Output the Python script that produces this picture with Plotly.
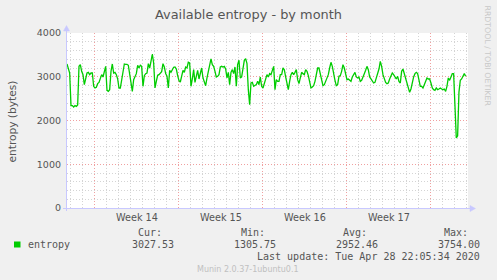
import numpy as np
import plotly.graph_objects as go

# ---------------- data ----------------
TITLE = "Available entropy - by month"
Y_TITLE = "entropy (bytes)"
SERIES_NAME = "entropy"
WEEK_LABELS = ["Week 14", "Week 15", "Week 16", "Week 17"]
WEEK_STARTS = [0, 7, 14, 21, 28]          # days relative to Mon 30 Mar 2020 (ISO week 14)
Y_TICKS = [0, 1000, 2000, 3000, 4000]
STAT_LABELS = ["Cur:", "Min:", "Avg:", "Max:"]
STAT_VALUES = ["3027.53", "1305.75", "2952.46", "3754.00"]
LAST_UPDATE = "Last update: Tue Apr 28 22:05:34 2020"
VERSION = "Munin 2.0.37-1ubuntu0.1"
WATERMARK = "RRDTOOL / TOBI OETIKER"

X_RANGE = [-2.3, 31.12]                   # days relative to week 14 start
SAMPLE_START = -2.3                       # first sample (days)
SAMPLE_STEP = 1.0 / 9.0                   # consolidation step (days)

entropy = [
    3292, 3162, 3086, 2340, 2340, 2309, 2340, 2324, 2355, 3238,
    3277, 3124, 3048, 2819, 2933, 3086, 3101, 3048, 3086, 3086,
    2781, 2743, 2758, 2842, 2872, 2972, 3048, 2995, 3162, 3238,
    2690, 2667, 2705, 3124, 3292, 3086, 3101, 3048, 2949, 2743,
    2743, 2933, 3200, 3292, 3284, 3284, 3261, 3048, 2781, 2667,
    2933, 3010, 3071, 3261, 3200, 3261, 3238, 2781, 3025, 3071,
    3086, 3300, 3200, 3353, 3520, 3315, 2743, 2895, 3033, 3048,
    3086, 3117, 3300, 3223, 3071, 3010, 2743, 3147, 3101, 3162,
    3216, 3223, 3177, 3025, 2911, 2880, 2995, 3147, 3101, 3223,
    3200, 3330, 3315, 2781, 2949, 3162, 2872, 2995, 3147, 2949,
    3086, 3200, 2972, 2857, 2796, 2972, 3124, 3238, 3406, 3277,
    3238, 3124, 2995, 3010, 3048, 3223, 3238, 3223, 3238, 3177,
    2972, 3101, 2819, 3101, 3162, 3071, 3223, 2781, 3277, 3376,
    2972, 2995, 3200, 3376, 3414, 3300, 2705,
    # week 15 tail onwards
    2362, 2857, 2872, 2781, 2796, 2819, 2895, 2819, 2995, 2781,
    2743, 2857, 2933, 3048, 2995, 3071, 3048, 3162, 3238, 2705,
    2933, 2895, 2895, 3048, 3048, 3200, 3162, 2995, 2819, 2705,
    2895, 3048, 3101, 3048, 3101, 3162, 2933, 2842, 2972, 3101,
    3071, 3048, 3162, 3124, 3025, 2857, 2743, 2766, 2796, 2895,
    3048, 3200, 3200, 3048, 2872, 2796, 2819, 2895, 2949, 3048,
    3200, 3330, 3238, 3048, 2918, 2796, 2819, 3010, 3025, 3124,
    3277, 3200, 3048, 2933, 2949, 2918, 2895, 2995, 3048, 3101,
    2995, 2972, 2995, 2895, 2918, 3025, 3071, 3147, 3238, 3162,
    2995, 2949, 2895, 2857, 2872, 2972, 3101, 3177, 3353, 3238,
    3048, 2933, 2872, 2842, 2857, 2949, 3025, 3086, 3048, 3010,
    2949, 3010, 2895, 2857, 3124, 3177, 3071, 2949, 2819, 2705,
    2644, 2720, 2872, 2995, 3071, 3101, 3071, 2949, 2781, 2781,
    2743, 2819, 2918, 2972, 2949, 2949, 2857, 2743, 2705, 2690,
    2743, 2705, 2720, 2743, 2720, 2705, 2720, 2667, 2781, 2972,
    2918, 2995, 3071, 3071, 2400, 1600, 1650, 2650, 2918, 2949,
    3010, 3071, 3010,
]
times = SAMPLE_START + SAMPLE_STEP * np.arange(len(entropy))

# ---------------- layout helpers ----------------
W, H = 497, 280
ML, MR, MT, MB = 67, 29, 33, 72
PW, PH = W - ML - MR, H - MT - MB


def px(x):
    return (x - ML) / PW


def py(y):
    return (H - MB - y) / PH


GREEN = "#00cc00"
TXT = "#555555"
AXIS = "#c8c8ff"
MAJOR = "#f0a0a0"
MINOR = "#d4d4d4"
SANS = "DejaVu Sans"
MONO = "DejaVu Sans Mono"

fig = go.Figure()
fig.add_trace(go.Scatter(
    x=times, y=entropy, mode="lines", name=SERIES_NAME,
    line=dict(color=GREEN, width=1.3), hoverinfo="skip", showlegend=False,
))

fig.update_layout(
    width=W, height=H,
    margin=dict(l=ML, r=MR, t=MT, b=MB, pad=0),
    paper_bgcolor="#f0f0f0", plot_bgcolor="#ffffff",
    showlegend=False,
    xaxis=dict(
        range=X_RANGE, tickmode="array", tickvals=WEEK_STARTS,
        showticklabels=False, ticks="",
        showgrid=True, gridcolor=MAJOR, griddash="1px,2px", gridwidth=1,
        minor=dict(dtick=1, tick0=0, showgrid=True, gridcolor=MINOR,
                   griddash="1px,2px", gridwidth=1, ticks=""),
        zeroline=False, showline=False, fixedrange=True,
    ),
    yaxis=dict(
        range=[0, 4000], tickmode="array", tickvals=Y_TICKS,
        ticktext=[str(v) for v in Y_TICKS], ticks="",
        tickfont=dict(family=SANS, size=9.5, color=TXT),
        ticklabelstandoff=5,
        showgrid=True, gridcolor=MAJOR, griddash="1px,2px", gridwidth=1,
        minor=dict(dtick=200, tick0=0, showgrid=True, gridcolor=MINOR,
                   griddash="1px,2px", gridwidth=1, ticks=""),
        zeroline=False, showline=False, fixedrange=True,
    ),
)

shapes = []
# y axis line + arrow
shapes.append(dict(type="line", xref="paper", yref="paper",
                   x0=px(66.5), x1=px(66.5), y0=py(211), y1=py(29),
                   line=dict(color=AXIS, width=1), layer="above"))
shapes.append(dict(type="path", xref="paper", yref="paper",
                   path=f"M {px(63.5)} {py(31)} L {px(69.5)} {py(31)} L {px(66.5)} {py(25.5)} Z",
                   fillcolor=AXIS, line=dict(color=AXIS, width=0.5), layer="above"))
# x axis line + arrow
shapes.append(dict(type="line", xref="paper", yref="paper",
                   x0=px(63), x1=px(471), y0=py(208.5), y1=py(208.5),
                   line=dict(color=AXIS, width=1), layer="above"))
shapes.append(dict(type="path", xref="paper", yref="paper",
                   path=f"M {px(470)} {py(205.5)} L {px(470)} {py(211.5)} L {px(475.5)} {py(208.5)} Z",
                   fillcolor=AXIS, line=dict(color=AXIS, width=0.5), layer="above"))
# legend swatch
shapes.append(dict(type="rect", xref="paper", yref="paper",
                   x0=px(14), x1=px(20.5), y0=py(247.5), y1=py(241.5),
                   fillcolor=GREEN, line=dict(width=0)))
fig.update_layout(shapes=shapes)

ann = []
# title
ann.append(dict(text=TITLE, xref="paper", yref="paper", x=px(248.3), y=py(14),
                xanchor="center", yanchor="middle", showarrow=False,
                font=dict(family=SANS, size=12.9, color=TXT)))
# y title
ann.append(dict(text=Y_TITLE, xref="paper", yref="paper", x=px(11.5), y=py(121),
                xanchor="center", yanchor="middle", textangle=-90, showarrow=False,
                font=dict(family=SANS, size=10.6, color=TXT)))
# watermark
ann.append(dict(text=WATERMARK, xref="paper", yref="paper", x=px(487.5), y=py(56),
                xanchor="center", yanchor="middle", textangle=90, showarrow=False,
                font=dict(family=SANS, size=7.8, color="#c8c8c8")))
# week labels
for i, lab in enumerate(WEEK_LABELS):
    ann.append(dict(text=lab, xref="x", yref="paper",
                    x=(WEEK_STARTS[i] + WEEK_STARTS[i + 1]) / 2, y=py(217.5),
                    xanchor="center", yanchor="middle", showarrow=False,
                    font=dict(family=SANS, size=9.7, color=TXT)))
# legend / stats
ann.append(dict(text=SERIES_NAME, xref="paper", yref="paper", x=px(25.5), y=py(244.3),
                xanchor="left", yanchor="middle", showarrow=False,
                font=dict(family=MONO, size=10, color=TXT)))
label_right = [163.5, 266.8, 368.5, 470.2]
value_right = [175.8, 278.4, 380.1, 482.4]
for lab, val, lr, vr in zip(STAT_LABELS, STAT_VALUES, label_right, value_right):
    ann.append(dict(text=lab, xref="paper", yref="paper", x=px(lr), y=py(232.7),
                    xanchor="right", yanchor="middle", showarrow=False,
                    font=dict(family=MONO, size=10, color=TXT)))
    ann.append(dict(text=val, xref="paper", yref="paper", x=px(vr), y=py(244.3),
                    xanchor="right", yanchor="middle", showarrow=False,
                    font=dict(family=MONO, size=10, color=TXT)))
ann.append(dict(text=LAST_UPDATE, xref="paper", yref="paper", x=px(482.4), y=py(256),
                xanchor="right", yanchor="middle", showarrow=False,
                font=dict(family=MONO, size=10, color=TXT)))
ann.append(dict(text=VERSION, xref="paper", yref="paper", x=px(248), y=py(269.3),
                xanchor="center", yanchor="middle", showarrow=False,
                font=dict(family=SANS, size=8, color="#c0c0c0")))
fig.update_layout(annotations=ann)

fig.write_html("out.html", config={"displayModeBar": False})
